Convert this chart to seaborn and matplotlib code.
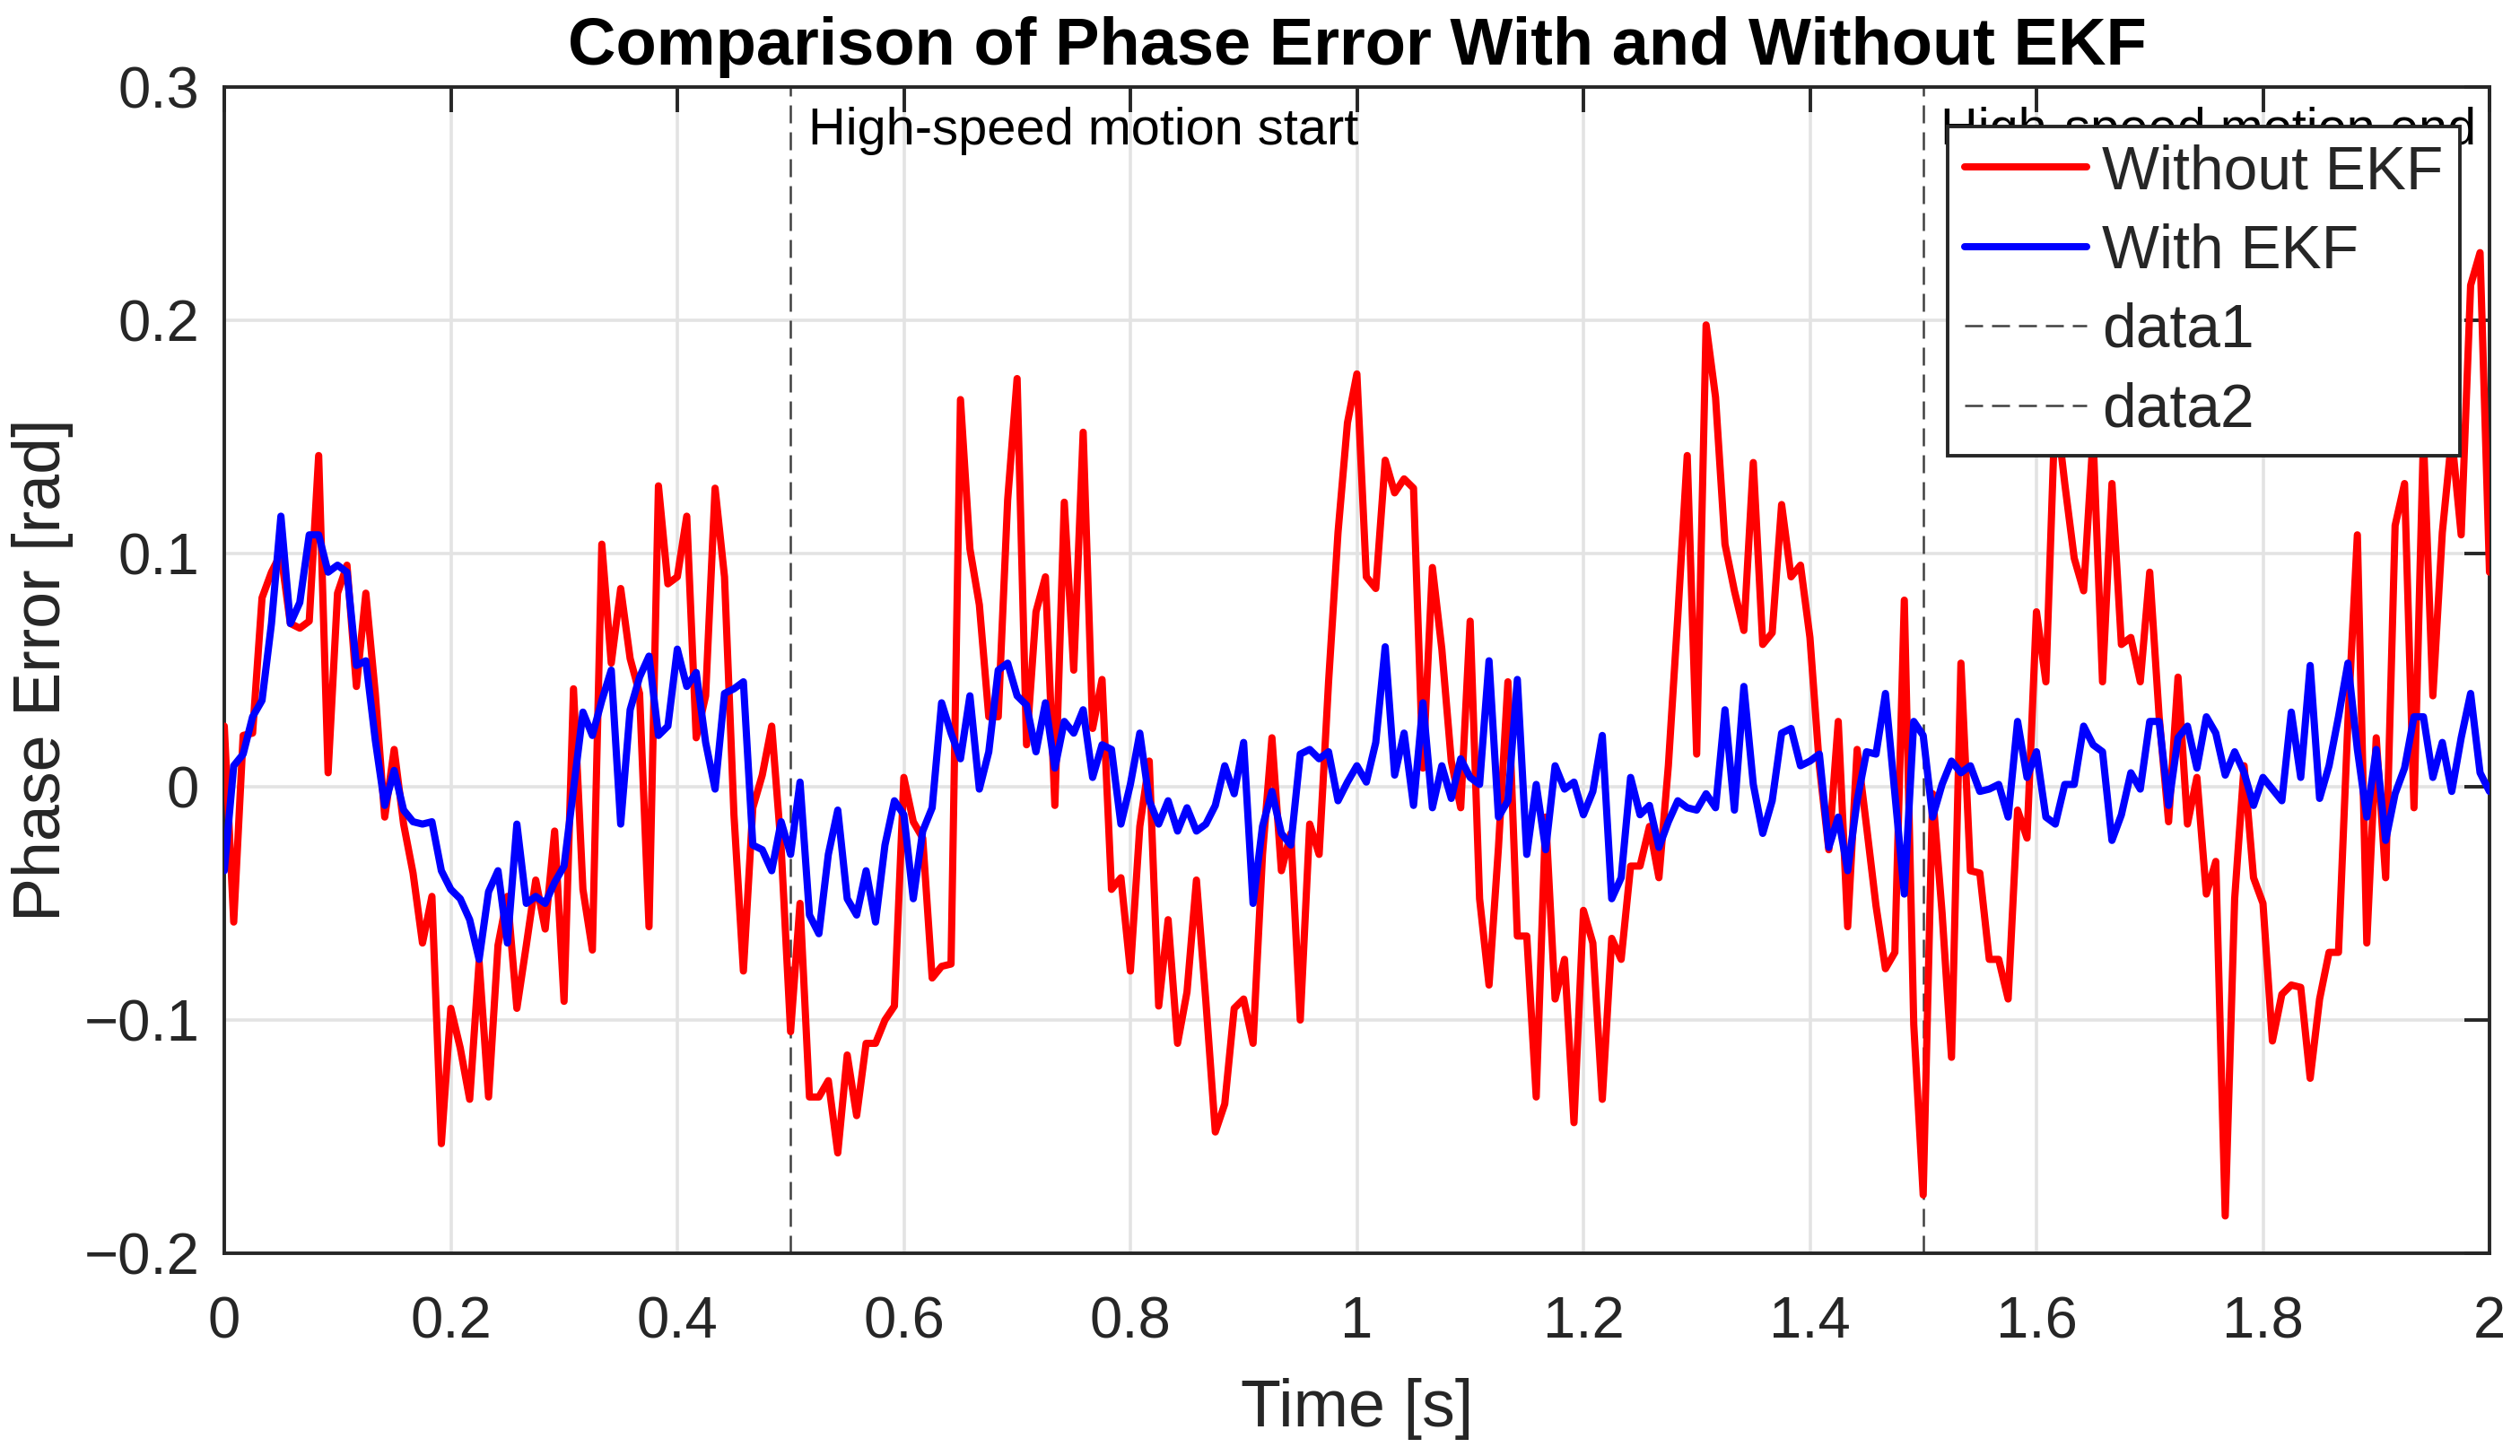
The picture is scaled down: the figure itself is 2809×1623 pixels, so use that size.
import numpy as np
import pandas as pd
import matplotlib
matplotlib.use("Agg")
import matplotlib.pyplot as plt
from matplotlib.ticker import MultipleLocator, FuncFormatter
import seaborn as sns

# ------------------------------------------------------------------ #
# data (241 samples, 0 .. 2 s)
# ------------------------------------------------------------------ #
t_start, t_end, n_samples = 0.0, 2.0, 241

without_ekf = [
    0.026, -0.058, 0.022, 0.023, 0.081, 0.092, 0.100, 0.070, 0.068, 0.071,
    0.142, 0.006, 0.083, 0.095, 0.043, 0.083, 0.040, -0.013, 0.016, -0.016,
    -0.037, -0.067, -0.047, -0.153, -0.095, -0.112, -0.134, -0.075, -0.133, -0.068,
    -0.047, -0.095, -0.068, -0.040, -0.061, -0.019, -0.092, 0.042, -0.044, -0.070,
    0.104, 0.053, 0.085, 0.055, 0.040, -0.060, 0.129, 0.087, 0.090, 0.116,
    0.021, 0.039, 0.128, 0.090, -0.012, -0.079, -0.009, 0.005, 0.026, -0.026,
    -0.105, -0.050, -0.133, -0.133, -0.126, -0.157, -0.115, -0.141, -0.110, -0.110,
    -0.100, -0.094, 0.004, -0.015, -0.022, -0.082, -0.077, -0.076, 0.166, 0.102,
    0.078, 0.030, 0.030, 0.123, 0.175, 0.018, 0.075, 0.090, -0.008, 0.122,
    0.050, 0.152, 0.025, 0.046, -0.044, -0.039, -0.079, -0.017, 0.011, -0.094,
    -0.057, -0.110, -0.088, -0.040, -0.092, -0.148, -0.136, -0.095, -0.091, -0.110,
    -0.029, 0.021, -0.036, -0.020, -0.100, -0.016, -0.029, 0.045, 0.109, 0.156,
    0.177, 0.090, 0.085, 0.140, 0.126, 0.132, 0.128, 0.008, 0.094, 0.059,
    0.011, -0.009, 0.071, -0.048, -0.085, -0.026, 0.045, -0.064, -0.064, -0.133,
    -0.013, -0.091, -0.074, -0.144, -0.053, -0.067, -0.134, -0.065, -0.074, -0.034,
    -0.034, -0.017, -0.039, 0.009, 0.073, 0.142, 0.014, 0.198, 0.167, 0.104,
    0.084, 0.067, 0.139, 0.061, 0.066, 0.121, 0.090, 0.095, 0.064, 0.009,
    -0.027, 0.028, -0.060, 0.016, -0.017, -0.051, -0.078, -0.071, 0.080, -0.102,
    -0.175, -0.003, -0.054, -0.116, 0.053, -0.036, -0.037, -0.074, -0.074, -0.091,
    -0.010, -0.022, 0.075, 0.045, 0.165, 0.130, 0.098, 0.084, 0.150, 0.045,
    0.130, 0.061, 0.064, 0.045, 0.092, 0.030, -0.015, 0.047, -0.016, 0.004,
    -0.046, -0.032, -0.184, -0.048, 0.009, -0.039, -0.050, -0.109, -0.089, -0.085,
    -0.086, -0.125, -0.091, -0.071, -0.071, 0.028, 0.108, -0.067, 0.021, -0.039,
    0.112, 0.130, -0.009, 0.150, 0.039, 0.109, 0.150, 0.108, 0.215, 0.229,
    0.092,
]

with_ekf = [
    -0.036, 0.009, 0.014, 0.030, 0.037, 0.070, 0.116, 0.070, 0.079, 0.108,
    0.108, 0.092, 0.095, 0.092, 0.052, 0.054, 0.020, -0.008, 0.007, -0.010,
    -0.015, -0.016, -0.015, -0.036, -0.044, -0.048, -0.057, -0.074, -0.045, -0.036,
    -0.067, -0.016, -0.050, -0.047, -0.050, -0.041, -0.034, -0.001, 0.032, 0.022,
    0.037, 0.050, -0.016, 0.033, 0.047, 0.056, 0.022, 0.026, 0.059, 0.043,
    0.049, 0.019, -0.001, 0.040, 0.042, 0.045, -0.025, -0.027, -0.036, -0.015,
    -0.029, 0.002, -0.055, -0.063, -0.029, -0.010, -0.048, -0.055, -0.036, -0.058,
    -0.025, -0.006, -0.012, -0.048, -0.019, -0.009, 0.036, 0.023, 0.012, 0.039,
    -0.001, 0.015, 0.050, 0.053, 0.039, 0.035, 0.015, 0.036, 0.008, 0.028,
    0.023, 0.033, 0.004, 0.018, 0.016, -0.016, 0.001, 0.023, -0.006, -0.016,
    -0.006, -0.019, -0.009, -0.019, -0.016, -0.008, 0.009, -0.003, 0.019, -0.050,
    -0.017, -0.002, -0.020, -0.025, 0.014, 0.016, 0.012, 0.015, -0.006, 0.002,
    0.009, 0.002, 0.019, 0.060, 0.005, 0.023, -0.008, 0.036, -0.009, 0.009,
    -0.005, 0.012, 0.004, 0.001, 0.054, -0.013, -0.006, 0.046, -0.029, 0.001,
    -0.027, 0.009, -0.001, 0.002, -0.012, -0.002, 0.022, -0.048, -0.039, 0.004,
    -0.012, -0.008, -0.026, -0.015, -0.006, -0.009, -0.010, -0.003, -0.009, 0.033,
    -0.010, 0.043, 0.001, -0.020, -0.006, 0.023, 0.025, 0.009, 0.011, 0.014,
    -0.026, -0.013, -0.036, -0.006, 0.015, 0.014, 0.040, -0.003, -0.046, 0.028,
    0.022, -0.013, 0.001, 0.011, 0.006, 0.009, -0.002, -0.001, 0.001, -0.013,
    0.028, 0.004, 0.015, -0.013, -0.016, 0.001, 0.001, 0.026, 0.018, 0.015,
    -0.023, -0.012, 0.006, -0.001, 0.028, 0.028, -0.008, 0.021, 0.026, 0.008,
    0.030, 0.023, 0.005, 0.015, 0.006, -0.008, 0.004, -0.001, -0.006, 0.032,
    0.004, 0.052, -0.005, 0.009, 0.030, 0.053, 0.016, -0.013, 0.016, -0.023,
    -0.003, 0.008, 0.030, 0.030, 0.004, 0.019, -0.002, 0.021, 0.040, 0.006,
    -0.002,
]

event_times = [0.5, 1.5]
event_labels = ["High-speed motion start", "High-speed motion end"]
x_ticks = [0, 0.2, 0.4, 0.6, 0.8, 1.0, 1.2, 1.4, 1.6, 1.8, 2.0]
y_ticks = [-0.2, -0.1, 0.0, 0.1, 0.2, 0.3]

t = np.linspace(t_start, t_end, n_samples)
df = pd.DataFrame({"t": t, "Without EKF": without_ekf, "With EKF": with_ekf})

# ------------------------------------------------------------------ #
# style
# ------------------------------------------------------------------ #
sns.set_theme(style="white")
plt.rcParams["font.family"] = ["Liberation Sans", "DejaVu Sans"]
axc = "#262626"

W, H, DPI = 2809, 1623, 200
fig = plt.figure(figsize=(W / DPI, H / DPI), dpi=DPI)
ax = fig.add_axes([250 / W, 1 - 1397 / H, 2525 / W, 1300 / H])

sns.lineplot(data=df, x="t", y="Without EKF", ax=ax, color="#ff0000", lw=2.9,
             label="Without EKF", estimator=None, sort=False, zorder=3)
sns.lineplot(data=df, x="t", y="With EKF", ax=ax, color="#0000ff", lw=2.9,
             label="With EKF", estimator=None, sort=False, zorder=3)

for i, (xe, txt) in enumerate(zip(event_times, event_labels)):
    ax.axvline(xe, color="#404040", lw=0.9, ls=(0, (8, 4)), label=f"data{i + 1}", zorder=2)
    ax.annotate(txt, xy=(xe, 0.962), xycoords=ax.get_xaxis_transform(),
                xytext=(7, 0), textcoords="offset points",
                ha="left", va="center", fontsize=20.8, color="black", zorder=2)

ax.set_xlim(0, 2)
ax.set_ylim(-0.2, 0.3)
ax.set_xticks(x_ticks)
ax.set_yticks(y_ticks)
fmt = FuncFormatter(lambda v, p: ("%g" % round(v, 3)).replace("-", "\u2212"))
ax.xaxis.set_major_formatter(fmt)
ax.yaxis.set_major_formatter(fmt)

ax.grid(True, color="#e3e3e3", lw=1.3)
ax.set_axisbelow(True)
ax.tick_params(axis="both", which="major", direction="in", length=10, width=1.4,
               top=True, right=True, colors=axc, labelsize=23.5, labelcolor=axc)
ax.tick_params(axis="x", pad=17)
ax.tick_params(axis="y", pad=10)
for s in ax.spines.values():
    s.set_visible(True)
    s.set_color(axc)
    s.set_linewidth(1.4)

ax.set_xlabel("Time [s]", fontsize=26.5, color=axc, labelpad=11.5)
ax.set_ylabel("Phase Error [rad]", fontsize=26.5, color=axc, labelpad=4)
ax.set_title("Comparison of Phase Error With and Without EKF", fontsize=26.7,
             fontweight="bold", color="black", pad=9)

leg = ax.legend(loc="upper right", bbox_to_anchor=(0.987, 0.966), borderaxespad=0,
                fontsize=24.4, frameon=True, fancybox=False, framealpha=1,
                handlelength=2.0, handletextpad=0.25, labelspacing=0.36,
                borderpad=0.28)
leg.get_frame().set_edgecolor(axc)
leg.get_frame().set_linewidth(1.4)
leg.set_zorder(5)

fig.savefig("out.png", dpi=DPI)
